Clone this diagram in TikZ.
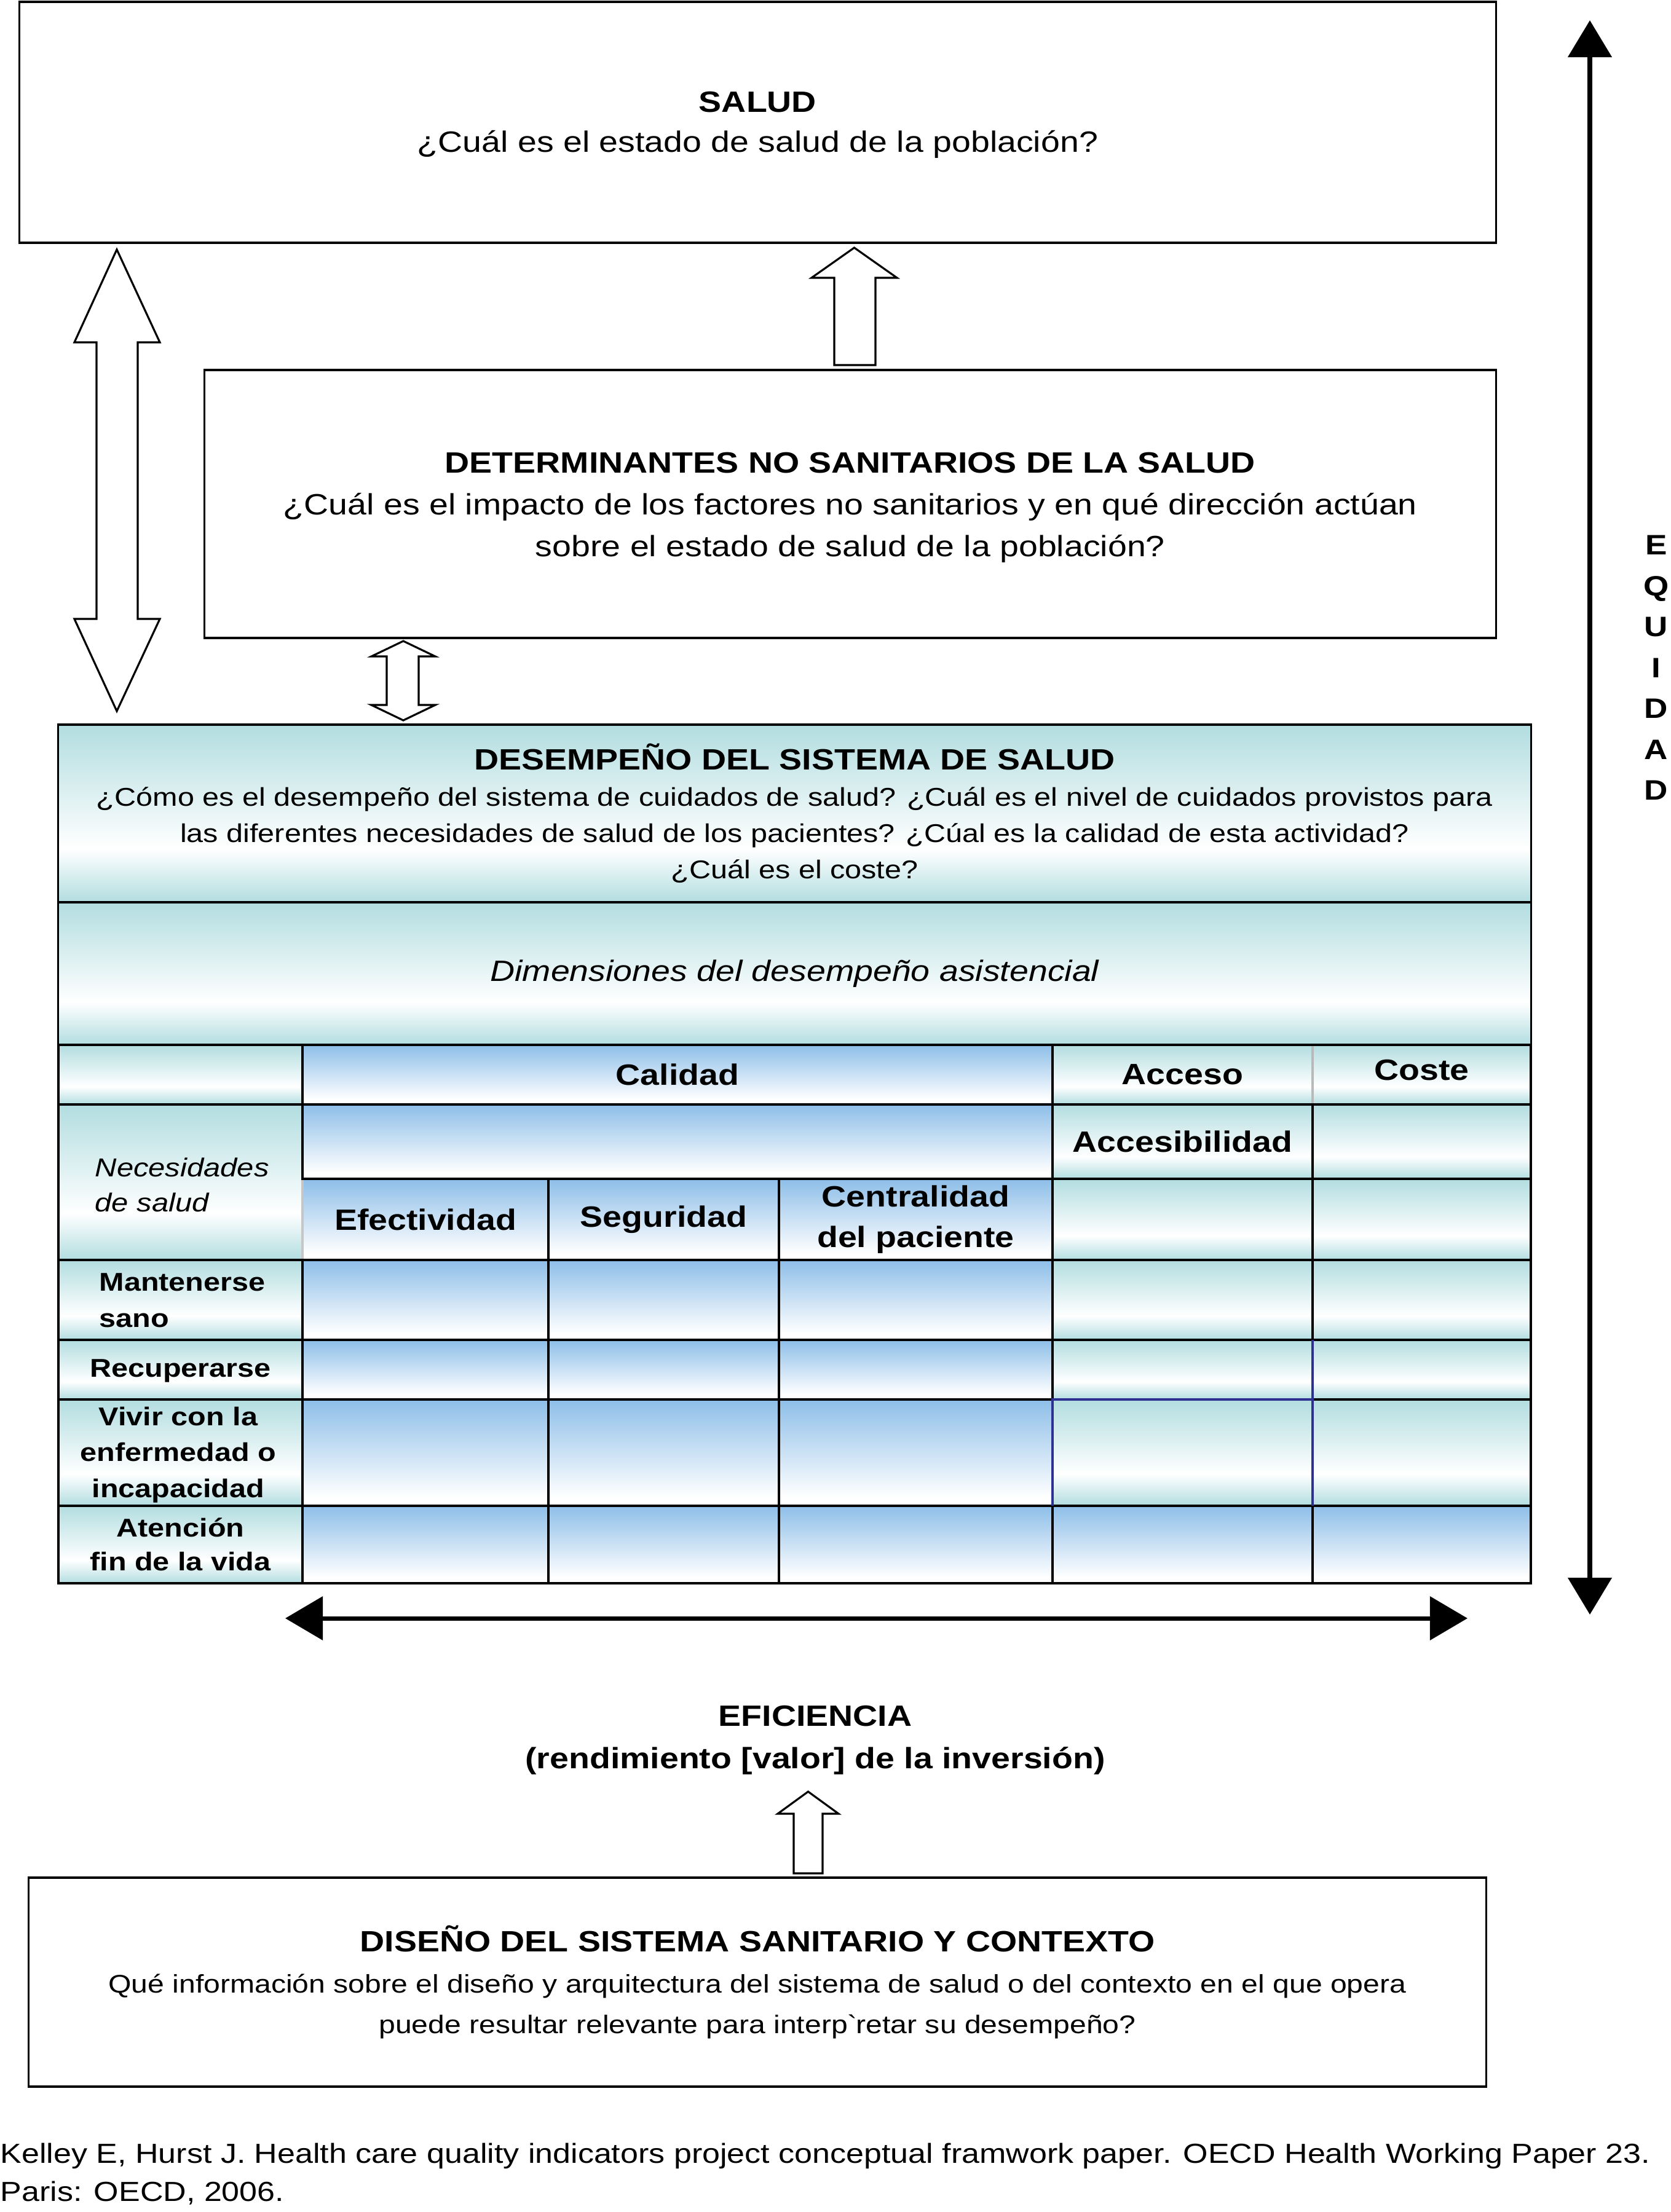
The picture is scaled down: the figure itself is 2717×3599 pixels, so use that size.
\documentclass[tikz,border=0pt]{standalone}
\usepackage{fontspec}
\setmainfont{Liberation Sans}[FakeStretch=1.16]
\usetikzlibrary{arrows.meta}
\definecolor{tealc}{RGB}{178,221,224}
\definecolor{bluec}{RGB}{141,190,232}
\definecolor{navy}{RGB}{46,49,146}
\pgfdeclareverticalshading{tealsh}{100bp}{color(0bp)=(tealc); color(25bp)=(tealc); color(40bp)=(white); color(75bp)=(tealc); color(100bp)=(tealc)}
\pgfdeclareverticalshading{bluesh}{100bp}{color(0bp)=(white); color(29bp)=(white); color(75bp)=(bluec); color(100bp)=(bluec)}
\newcommand\fA{\fontsize{13.6pt}{19.3pt}\selectfont}
\newcommand\fD{\fontsize{11.9pt}{16.8pt}\selectfont}
\newcommand\fT{\fontsize{13.6pt}{18.8pt}\selectfont\bfseries}
\newcommand\fR{\fontsize{11.9pt}{16.7pt}\selectfont\bfseries}
\newcommand\tcell[7]{\shadedraw[tbl, shading=#6] (#2,#3) rectangle (#4,#5); \node[cellt] (#1) at ({(#2+#4)/2},{(#3+#5)/2}) {#7};}
\begin{document}
\begin{tikzpicture}[x=0.01cm, y=-0.01cm,
  box/.style={draw, line width=1pt, inner sep=0pt, align=center},
  tbl/.style={draw, line width=1pt},
  cellt/.style={font=\fT, align=center, inner sep=0pt},
  rowlab/.style={font=\fR, inner sep=0pt},
  boxtext/.style={align=center, inner sep=0pt},
  hollow/.style={draw, line width=0.9pt, fill=white, line join=miter}]
\useasboundingbox (0,0) rectangle (2717,3599);

% main boxes
\node[box, minimum width=24.01cm, minimum height=3.92cm] (salud) at (1232.5,199) {};
\node[boxtext, font=\fontsize{13.6pt}{18.6pt}\selectfont] (saludt) at (1232.5,203) 
  {\textbf{SALUD}\\¿Cuál es el estado de salud de la población?};
\node[box, minimum width=21cm, minimum height=4.36cm] (det) at (1383,820) {};
\node[boxtext, font=\fA] (dett) at (1383,826)
  {\textbf{DETERMINANTES NO SANITARIOS DE LA SALUD}\\¿Cuál es el impacto de los factores no sanitarios y en qué dirección actúan\\sobre el estado de salud de la población?};
\node[box, shade, shading=tealsh, minimum width=23.95cm, minimum height=2.89cm, font=\fD] (des) at (1292.5,1323.5)
  {{\fontsize{13.6pt}{16.8pt}\selectfont\bfseries DESEMPEÑO DEL SISTEMA DE SALUD}\\¿Cómo es el desempeño del sistema de cuidados de salud? ¿Cuál es el nivel de cuidados provistos para\\las diferentes necesidades de salud de los pacientes? ¿Cúal es la calidad de esta actividad?\\¿Cuál es el coste?};
\node[box, shade, shading=tealsh, minimum width=23.95cm, minimum height=2.32cm, font=\fA\itshape] (dim) at (1292.5,1584)
  {Dimensiones del desempeño asistencial};

% table
\tcell{h0}{95}{1700}{492}{1797}{tealsh}{}
\tcell{cal}{492}{1700}{1712}{1797}{bluesh}{Calidad}
\tcell{acc}{1712}{1700}{2135}{1797}{tealsh}{Acceso}
\tcell{cosh}{2135}{1700}{2490}{1797}{tealsh}{}
\node[cellt] (cos) at (2312.5,1741) {Coste};
\tcell{nec}{95}{1797}{492}{2050}{tealsh}{}
\tcell{calb}{492}{1797}{1712}{1918}{bluesh}{}
\tcell{accb}{1712}{1797}{2135}{1918}{tealsh}{Accesibilidad}
\tcell{cosb}{2135}{1797}{2490}{1918}{tealsh}{}
\tcell{efe}{492}{1918}{892}{2050}{bluesh}{Efectividad}
\tcell{seg}{892}{1918}{1267}{2050}{bluesh}{Seguridad}
\tcell{cen}{1267}{1918}{1712}{2050}{bluesh}{Centralidad\\del paciente}
\tcell{acc2}{1712}{1918}{2135}{2050}{tealsh}{}
\tcell{cos2}{2135}{1918}{2490}{2050}{tealsh}{}
\foreach \ya/\yb in {2050/2180, 2180/2277, 2277/2450}{
  \foreach \xa/\xb/\s in {95/492/tealsh, 492/892/bluesh, 892/1267/bluesh, 1267/1712/bluesh, 1712/2135/tealsh, 2135/2490/tealsh}{
    \shadedraw[tbl, shading=\s] (\xa,\ya) rectangle (\xb,\yb);}}
\foreach \xa/\xb/\s in {95/492/tealsh, 492/892/bluesh, 892/1267/bluesh, 1267/1712/bluesh, 1712/2135/bluesh, 2135/2490/bluesh}{
  \shadedraw[tbl, shading=\s] (\xa,2450) rectangle (\xb,2576);}
% special border colours
\draw[gray!55, line width=1pt] (2135,1702) -- (2135,1795);
\draw[gray!45, line width=1pt] (492,1920) -- (492,2048);
\draw[navy, line width=0.9pt] (1712,2450) -- (1712,2277) -- (2135,2277);
\draw[navy, line width=0.9pt] (2135,2180) -- (2135,2450);

% table labels
\node[font=\fontsize{12pt}{16.2pt}\selectfont\itshape, align=left, inner sep=0pt, anchor=west] (necl) at (154,1928) {Necesidades\\de salud};
\node[rowlab, align=left, anchor=west] (man) at (161,2116) {Mantenerse\\sano};
\node[rowlab] (rec) at (293.5,2230) {Recuperarse};
\node[rowlab, align=center, font=\fontsize{11.9pt}{16.6pt}\selectfont\bfseries] (viv) at (290,2367) {Vivir con la\\enfermedad o\\incapacidad};
\node[rowlab, align=center, font=\fontsize{11.9pt}{15.6pt}\selectfont\bfseries] (ate) at (293.5,2513) {Atención\\fin de la vida};

% hollow block arrows
\draw[hollow] (190,406) -- (260,557) -- (224,557) -- (224,1007) -- (260,1007) -- (190,1157) -- (121,1007) -- (157,1007) -- (157,557) -- (121,557) -- cycle;
\draw[hollow] (1389.5,403) -- (1459,452) -- (1424,452) -- (1424,594) -- (1357,594) -- (1357,452) -- (1320,452) -- cycle;
\draw[hollow] (656,1043) -- (708,1068) -- (681,1068) -- (681,1147) -- (708,1147) -- (656,1172) -- (604,1147) -- (629,1147) -- (629,1068) -- (604,1068) -- cycle;
\draw[hollow] (1314.5,2915) -- (1364,2951) -- (1338,2951) -- (1338,3048) -- (1291,3048) -- (1291,2951) -- (1265,2951) -- cycle;

% equidad
\coordinate (eqt) at (2586,33);
\coordinate (eqb) at (2586,2627);
\draw[line width=2.3pt, {Triangle[length=0.6cm,width=0.7cm]}-{Triangle[length=0.6cm,width=0.7cm]}] (eqt) -- (eqb);
\node[font=\fontsize{13pt}{18.9pt}\selectfont\bfseries, align=center, inner sep=0pt] (eq) at (2694,1086.5) {E\\Q\\U\\I\\D\\A\\D};

% eficiencia
\coordinate (efl) at (464,2633);
\coordinate (efr) at (2387,2633);
\draw[line width=2pt, {Triangle[length=0.61cm,width=0.7cm]}-{Triangle[length=0.61cm,width=0.7cm]}] (efl) -- (efr);
\node[font=\fontsize{13.6pt}{19.6pt}\selectfont\bfseries, align=center, inner sep=0pt] (efi) at (1326,2831) {EFICIENCIA\\(rendimiento [valor] de la inversión)};

% diseno
\node[box, minimum width=23.70cm, minimum height=3.40cm, font=\fontsize{11.8pt}{18.8pt}\selectfont] (dis) at (1232,3225)
  {{\fontsize{13.6pt}{18.8pt}\selectfont\bfseries DISEÑO DEL SISTEMA SANITARIO Y CONTEXTO}\\Qué información sobre el diseño y arquitectura del sistema de salud o del contexto en el que opera\\puede resultar relevante para interp\textasciigrave retar su desempeño?};

% citation
\node[font=\fontsize{12.75pt}{17.6pt}\selectfont, align=left, inner sep=0pt, anchor=west] (cit) at (0,3537)
  {Kelley E, Hurst J. Health care quality indicators project conceptual framwork paper. OECD Health Working Paper 23.\\Paris: OECD, 2006.};
\end{tikzpicture}
\end{document}
